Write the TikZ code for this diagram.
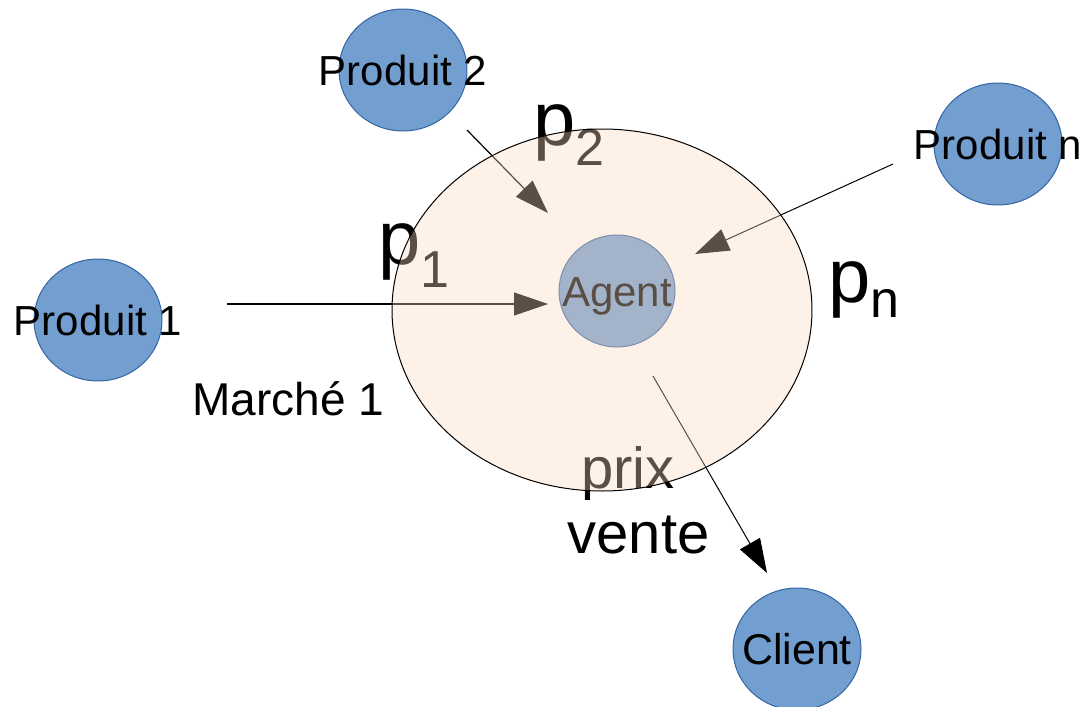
\documentclass[tikz,border=0pt]{standalone}
\usepackage{fontspec}
\setmainfont{Liberation Sans}
\usetikzlibrary{positioning, arrows.meta, shapes.geometric}
\definecolor{prodblue}{HTML}{729FCF}
\definecolor{prodedge}{HTML}{3465A4}
\definecolor{peach}{HTML}{FAD9C0}
\newcommand{\fs}[1]{\fontsize{#1}{#1}\selectfont}
\newcommand{\pidx}[2]{p\raisebox{-#2}{\fs{26}#1}}

\begin{document}
\begin{tikzpicture}[x=0.5pt,y=-0.5pt,>={Triangle[length=17pt,width=11.5pt]},
  prod/.style={draw=prodedge,fill=prodblue,ellipse,line width=0.5pt,minimum width=64pt,minimum height=61pt,inner sep=0pt},
  lab/.style={font=\fs{21},inner sep=0pt,text height=15pt,text depth=0pt},
  txt/.style={inner sep=0pt,anchor=base},
  pl/.style={font=\fs{38},inner sep=0pt,anchor=base west},
  fl/.style={->,line width=0.6pt}]
  \useasboundingbox (0,0) rectangle (1084,707);
  % products, agent and client
  \node[prod](prod1) at (98,320){};\node[lab](lprod1) at (prod1.center){Produit 1};
  \node[prod](prod2) at (403,70){};\node[lab](lprod2) at (prod2.center){Produit 2};
  \node[prod](prodn) at (998,144){};\node[lab](lprodn) at (prodn.center){Produit n};
  \node[prod,minimum width=58pt,minimum height=56pt](agent) at (617,291){};\node[lab](lagent) at (agent.center){Agent};
  \node[prod](client) at (797,649){};\node[lab,font=\fs{21.5}](lclient) at (client.center){Client};
  % free ends of the arrows
  \coordinate (s1) at (227,304);\coordinate (e1) at (548,304);
  \coordinate (s2) at (467,130);\coordinate (e2) at (548,213);
  \coordinate (sn) at (893,164);\coordinate (en) at (695,254);
  \coordinate (sc) at (653,376);\coordinate (ec) at (767,573);
  \draw[fl](s1)--(e1);\draw[fl](s2)--(e2);\draw[fl,line width=0.5pt](sn)--(en);\draw[fl,line width=0.5pt](sc)--(ec);
  % prices
  \node[pl](pr1) at (378,264){\pidx{1}{11.5pt}};
  \node[pl](pr2) at (533,145){\pidx{2}{10pt}};
  \node[pl](prn) at (828,302){\pidx{n}{7.5pt}};
  \node[txt,font=\fs{23}](march) at (288.5,415){Marché 1};
  \node[txt,font=\fs{29}](prix) at (628,488){prix};
  \node[txt,font=\fs{29}](vente) at (638.5,553){vente};
  % market, drawn over everything
  \node[draw,ellipse,line width=0.5pt,fill=peach,fill opacity=0.36,minimum width=210pt,minimum height=181pt,inner sep=0pt](mkt) at (602,310){};
\end{tikzpicture}
\end{document}
